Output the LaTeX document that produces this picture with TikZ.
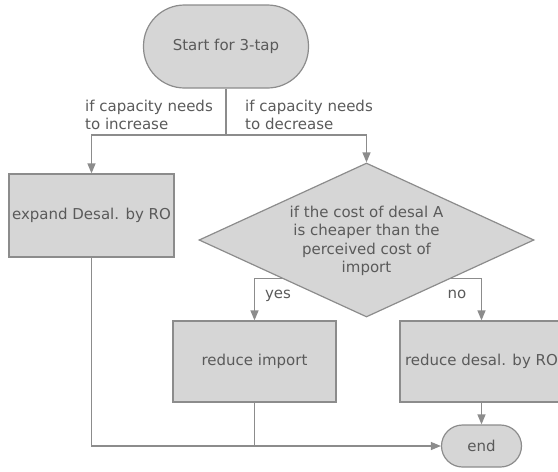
\documentclass[tikz,border=0pt]{standalone}
\usepackage{fontspec}
\setmainfont{DejaVu Sans}
\usetikzlibrary{arrows.meta,shapes.geometric}
\definecolor{boxfill}{HTML}{D6D6D6}
\definecolor{boxline}{HTML}{8C8C8C}
\definecolor{txt}{HTML}{5A5A5A}
\begin{document}
\begin{tikzpicture}[x=1pt,y=-1pt,
  font=\fontsize{15}{18.3}\selectfont, text=txt,
  box/.style={draw=boxline, fill=boxfill, line width=1.2pt, inner sep=0pt},
  proc/.style={box, rectangle, minimum width=165pt, minimum height=83pt},
  term/.style={box, rectangle, rounded corners=#1},
  lbl/.style={align=left, inner sep=0pt, anchor=north west},
  conn/.style={draw=boxline, line width=1.2pt},
  arr/.style={conn, -{Triangle[width=8pt,length=10pt]}}]
\useasboundingbox (0,0) rectangle (558,472);
\node[term=41pt, minimum width=165pt, minimum height=83pt] (start) at (226,46.5) {Start for 3-tap};
\coordinate (j) at (226,135);
\node[proc] (exp) at (91.5,215.5) {expand Desal. by RO};
\node[box, diamond, minimum width=335pt, minimum height=154pt] (dia) at (366.5,240) {};
\node[align=center, inner sep=0pt] (diatext) at (366.5,241) {if the cost of desal A\\is cheaper than the\\perceived cost of\\import};
\node[proc, minimum width=163pt, minimum height=81pt] (imp) at (254.5,361.5) {reduce import};
\node[proc, minimum width=163pt, minimum height=81pt] (des) at (481.5,361.5) {reduce desal. by RO};
\node[term=21pt, minimum width=80pt, minimum height=42pt] (end) at (481.5,446) {end};
\node[lbl] (l1) at (85,100) {if capacity needs\\to increase};
\node[lbl] (l2) at (245,100) {if capacity needs\\to decrease};
\node[inner sep=0pt] (yes) at (278,296) {yes};
\node[inner sep=0pt] (no) at (457,294) {no};
\draw[conn] (start.south) -- (j);
\draw[arr] (j) -| (exp.north);
\draw[arr] (j) -| (dia.north);
\draw[arr] (dia.south west) -| (imp.north);
\draw[arr] (dia.south east) -| (des.north);
\draw[arr] (exp.south) |- (end.west);
\draw[conn] (imp.south) -- (imp.south |- end.west);
\draw[arr] (des.south) -- (end.north);
\end{tikzpicture}
\end{document}
